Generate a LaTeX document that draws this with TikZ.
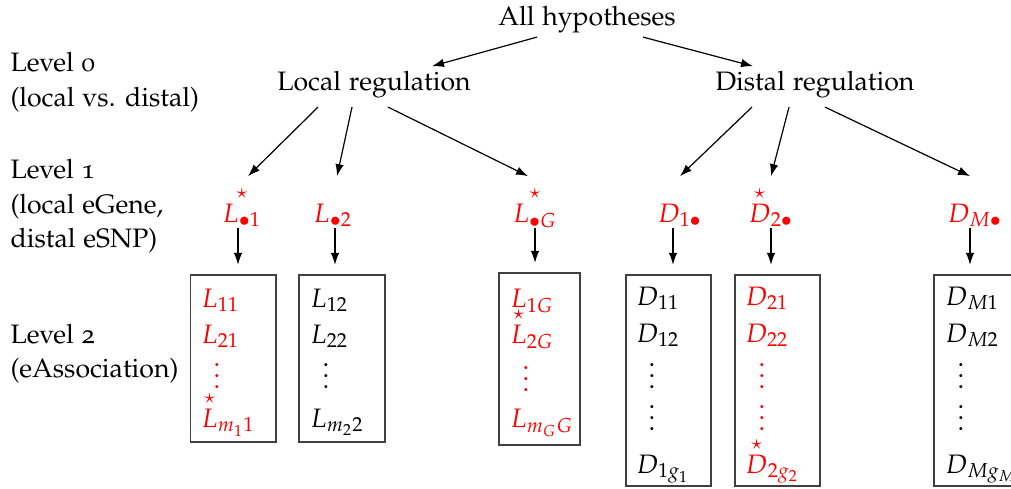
\documentclass[tikz,border=0pt]{standalone}
\usepackage[T1]{fontenc}
\usepackage[osf]{mathpazo}
\usepackage{amsmath}
\usetikzlibrary{arrows.meta,fit}
\begin{document}
\begin{tikzpicture}[x=0.375pt,y=-0.375pt,
  lvl/.style={inner sep=0pt, anchor=base west},
  hyp/.style={anchor=base, inner sep=1.5pt},
  one/.style={anchor=base, text=red, text height=14pt, text depth=0pt, inner sep=3pt},
  ent/.style={anchor=base west, inner sep=0pt},
  dts/.style={anchor=base, inner sep=0pt},
  box/.style={draw=black!75, line width=0.45pt, inner sep=0pt},
  arr/.style={-{Latex[length=4.5pt,width=3.2pt]}, line width=0.45pt},
  down/.style={arr, shorten >=3.6pt},
]
\useasboundingbox (0,0) rectangle (1011,488);
\clip (0,0) rectangle (1011,488);

% level labels
\node[lvl] (lv0a) at (10,71) {Level 0};
\node[lvl] (lv0b) at (10,106) {(local vs. distal)};
\node[lvl] (lv1a) at (10,178) {Level 1};
\node[lvl] (lv1b) at (10,213) {(local eGene,};
\node[lvl] (lv1c) at (10,247) {distal eSNP)};
\node[lvl] (lv2a) at (10,343) {Level 2};
\node[lvl] (lv2b) at (10,377) {(eAssociation)};

% top levels
\node[hyp] (all) at (587,25) {All hypotheses};
\node[hyp] (loc) at (374,90) {Local regulation};
\node[hyp] (dis) at (815,90) {Distal regulation};

% level 1
\node[one] (l1) at (242,222) {$\overset{\star}{L_{\bullet 1}}$};
\node[one] (l2) at (333,222) {$L_{\bullet 2}$};
\node[one] (lg) at (535,222) {$\overset{\star}{L_{\bullet G}}$};
\node[one] (d1) at (680,222) {$D_{1\bullet}$};
\node[one] (d2) at (771,222) {${\overset{\star}{D}}_{2\bullet}$};
\node[one] (dm) at (975,222) {$D_{M\bullet}$};

% boxes
\node[box, fit={(190.7,275) (276,442)}] (b1) {};
\node[box, fit={(299,275) (385,442)}] (b2) {};
\node[box, fit={(499,273) (580,445)}] (b3) {};
\node[box, fit={(626,275) (711,486)}] (b4) {};
\node[box, fit={(735,275) (820,486)}] (b5) {};
\node[box, fit={(934,275) (1019,486)}] (b6) {};

% box 1
\node[ent, text=red] (e11) at (201,307) {$L_{11}$};
\node[ent, text=red] (e12) at (201,343) {$L_{21}$};
\node[dts, text=red] (e13) at (217,388) {$\vdots$};
\node[ent, text=red] (e14) at (201,427) {${\overset{\star}{L}}_{m_11}$};
% box 2
\node[ent] (e21) at (310,307) {$L_{12}$};
\node[ent] (e22) at (310,343) {$L_{22}$};
\node[dts] (e23) at (326,388) {$\vdots$};
\node[ent] (e24) at (310,427) {$L_{m_22}$};
% box 3
\node[ent, text=red] (e31) at (510,307) {$L_{1G}$};
\node[ent, text=red] (e32) at (510,343) {${\overset{\star}{L}}_{2G}$};
\node[dts, text=red] (e33) at (526,391) {$\vdots$};
\node[ent, text=red] (e34) at (510,427) {$L_{m_GG}$};
% box 4
\node[ent] (e41) at (636,305) {$D_{11}$};
\node[ent] (e42) at (636,342) {$D_{12}$};
\node[dts] (e43) at (652,388) {$\vdots$};
\node[dts] (e44) at (652,430) {$\vdots$};
\node[ent] (e45) at (636,473) {$D_{1g_1}$};
% box 5
\node[ent, text=red] (e51) at (745,305) {$D_{21}$};
\node[ent, text=red] (e52) at (745,342) {$D_{22}$};
\node[dts, text=red] (e53) at (762,388) {$\vdots$};
\node[dts, text=red] (e54) at (762,430) {$\vdots$};
\node[ent, text=red] (e55) at (745,473) {${\overset{\star}{D}}_{2g_2}$};
% box 6
\node[ent] (e61) at (945,305) {$D_{M1}$};
\node[ent] (e62) at (945,342) {$D_{M2}$};
\node[dts] (e63) at (961,388) {$\vdots$};
\node[dts] (e64) at (961,430) {$\vdots$};
\node[ent] (e65) at (945,473) {$D_{Mg_M}$};

% arrows: top
\draw[arr] ([shift={(-50,0)}]all.south) -- ([shift={(58,0)}]loc.north);
\draw[arr] ([shift={(56,0)}]all.south) -- ([shift={(-62,0)}]dis.north);
% arrows: to level 1
\draw[arr] ([shift={(-56,5)}]loc.south) -- ([shift={(6,0)}]l1.north);
\draw[arr] ([shift={(-22,5)}]loc.south) -- ([shift={(4,0)}]l2.north);
\draw[arr] ([shift={(14,5)}]loc.south) -- ([shift={(-7,0)}]lg.north);
\draw[arr] ([shift={(-63,5)}]dis.south) -- (d1.north);
\draw[arr] ([shift={(-26,5)}]dis.south) -- (d2.north);
\draw[arr] ([shift={(10,5)}]dis.south) -- ([shift={(-5,0)}]dm.north);
% arrows: to boxes
\draw[down] ([shift={(-4,-3)}]l1.south) coordinate (t1) -- (t1 |- b1.north);
\draw[down] ([shift={(2,-3)}]l2.south) coordinate (t2) -- (t2 |- b2.north);
\draw[down] ([shift={(0,-3)}]lg.south) coordinate (t3) -- (t3 |- b3.north);
\draw[down] ([shift={(-7,-3)}]d1.south) coordinate (t4) -- (t4 |- b4.north);
\draw[down] ([shift={(0,-3)}]d2.south) coordinate (t5) -- (t5 |- b5.north);
\draw[down] ([shift={(-5,-3)}]dm.south) coordinate (t6) -- (t6 |- b6.north);
\end{tikzpicture}
\end{document}
